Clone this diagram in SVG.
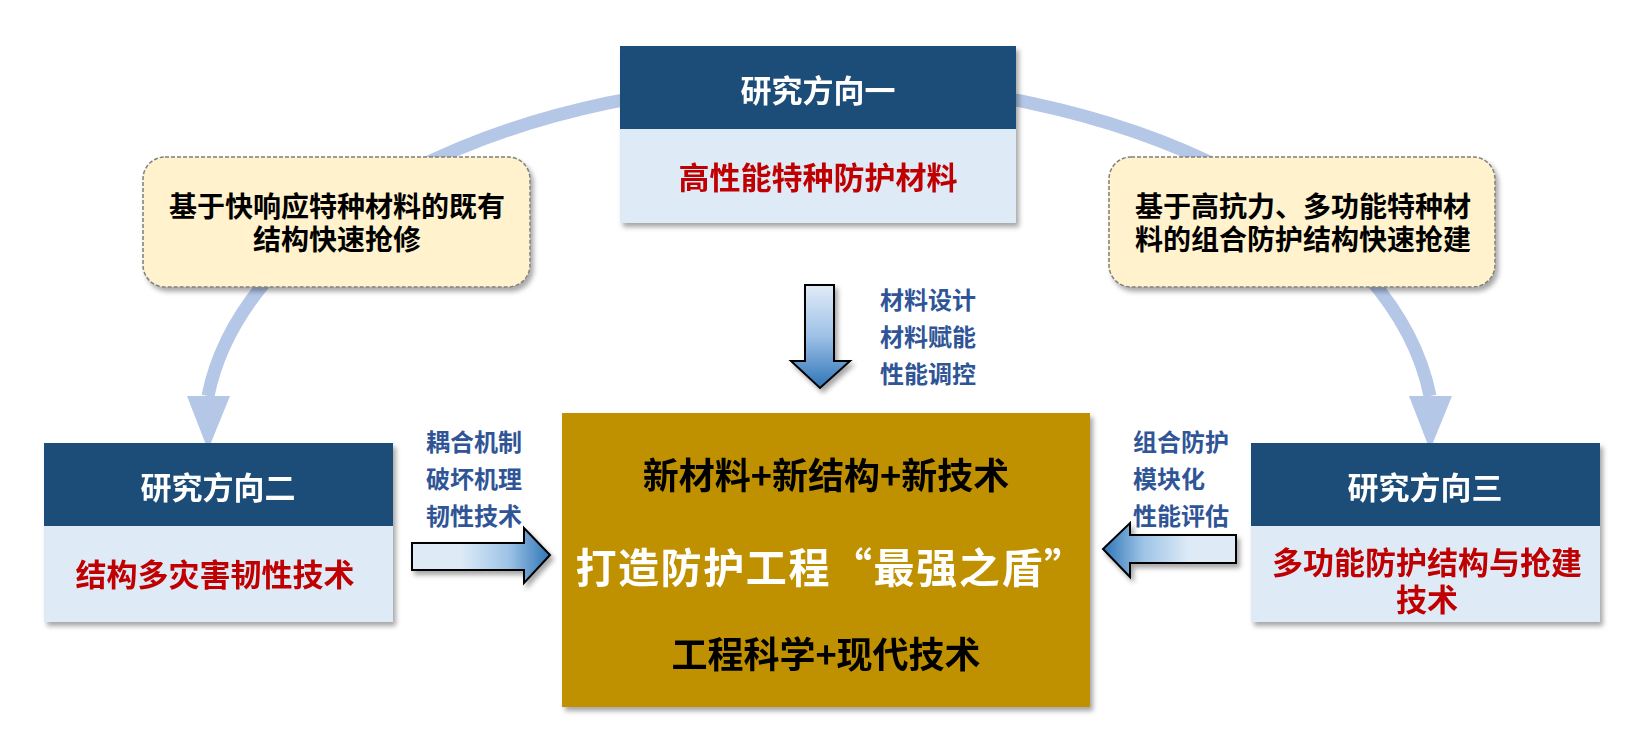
<svg xmlns="http://www.w3.org/2000/svg" width="1639" height="751" viewBox="0 0 1639 751">
<defs>
<style>
text{font-family:"Noto Sans CJK SC","Liberation Sans",sans-serif;font-weight:700;dominant-baseline:central}
.title{fill:#FFFFFF;font-size:31px;text-anchor:middle}
.sub{fill:#C00000;font-size:31px;text-anchor:middle}
.note{fill:#000000;font-size:28px;text-anchor:middle}
.lbl{fill:#2F5597;font-size:24px}
.head{fill:#1F4E79}
.body{fill:#DEEBF7}
.yel{fill:#FFF2CC;stroke:#7F7F7F;stroke-width:1.5;stroke-dasharray:4 2}
.garr{stroke:#000;stroke-width:2;stroke-linejoin:miter}
</style>
<filter id="sh" x="-10%" y="-10%" width="125%" height="130%">
<feDropShadow dx="3" dy="4" stdDeviation="2.5" flood-color="#000" flood-opacity="0.35"/>
</filter>
<linearGradient id="gDown" x1="0" y1="0" x2="0" y2="1">
<stop offset="0" stop-color="#E2ECF7"/><stop offset="0.5" stop-color="#9DC0E6"/><stop offset="1" stop-color="#2E75B6"/>
</linearGradient>
<linearGradient id="gRight" x1="0" y1="0" x2="1" y2="0">
<stop offset="0" stop-color="#DEEBF7"/><stop offset="0.35" stop-color="#DEEBF7"/><stop offset="0.7" stop-color="#9DC3E6"/><stop offset="1" stop-color="#2E75B6"/>
</linearGradient>
<linearGradient id="gLeft" x1="1" y1="0" x2="0" y2="0">
<stop offset="0" stop-color="#DEEBF7"/><stop offset="0.35" stop-color="#DEEBF7"/><stop offset="0.7" stop-color="#9DC3E6"/><stop offset="1" stop-color="#2E75B6"/>
</linearGradient>
</defs>
<rect width="1639" height="751" fill="#FFFFFF"/>

<g id="connectors">
<path d="M 208 396 A 615 355 0 0 1 1430 396" fill="none" stroke="#B4C7E7" stroke-width="13"/>
<polygon points="187,396 230,396 208,450" fill="#B4C7E7"/>
<polygon points="1409,396 1452,396 1430,450" fill="#B4C7E7"/>
<polygon class="garr" points="805,285 834,285 834,361 850,361 820,388 791,361 805,361" fill="url(#gDown)" filter="url(#sh)"/>
<polygon class="garr" points="412,543 524,543 524,528 550,555 524,583 524,570 412,570" fill="url(#gRight)" filter="url(#sh)"/>
<polygon class="garr" points="1236,535 1130,535 1130,523 1103,549 1130,577 1130,563 1236,563" fill="url(#gLeft)" filter="url(#sh)"/>
<text class="lbl" x="880" y="298">材料设计</text>
<text class="lbl" x="880" y="335">材料赋能</text>
<text class="lbl" x="880" y="372">性能调控</text>
<text class="lbl" x="426" y="440">耦合机制</text>
<text class="lbl" x="426" y="477">破坏机理</text>
<text class="lbl" x="426" y="514">韧性技术</text>
<text class="lbl" x="1133" y="440">组合防护</text>
<text class="lbl" x="1133" y="477">模块化</text>
<text class="lbl" x="1133" y="514">性能评估</text>
</g>

<g id="dir1" filter="url(#sh)">
<rect class="body" x="620" y="46" width="396" height="177"/>
<rect class="head" x="620" y="46" width="396" height="83"/>
<text class="title" x="818" y="88">研究方向一</text>
<text class="sub" x="818" y="175">高性能特种防护材料</text>
</g>

<g id="note-left">
<rect class="yel" x="143" y="157" width="387" height="130" rx="22" filter="url(#sh)"/>
<text class="note" x="337" y="205">基于快响应特种材料的既有</text>
<text class="note" x="337" y="238">结构快速抢修</text>
</g>

<g id="note-right">
<rect class="yel" x="1109" y="157" width="386" height="130" rx="22" filter="url(#sh)"/>
<text class="note" x="1303" y="205">基于高抗力、多功能特种材</text>
<text class="note" x="1303" y="238">料的组合防护结构快速抢建</text>
</g>

<g id="dir2" filter="url(#sh)">
<rect class="body" x="44" y="443" width="349" height="179"/>
<rect class="head" x="44" y="443" width="349" height="83"/>
<text class="title" x="218" y="485">研究方向二</text>
<text class="sub" x="215" y="572">结构多灾害韧性技术</text>
</g>

<g id="dir3" filter="url(#sh)">
<rect class="body" x="1251" y="443" width="349" height="179"/>
<rect class="head" x="1251" y="443" width="349" height="83"/>
<text class="title" x="1425" y="485">研究方向三</text>
<text class="sub" x="1427" y="560">多功能防护结构与抢建</text>
<text class="sub" x="1427" y="597">技术</text>
</g>

<g id="center" filter="url(#sh)">
<rect x="562" y="413" width="528" height="294" fill="#BF9000"/>
<text x="826" y="473" font-size="36" fill="#000" text-anchor="middle">新材料+新结构+新技术</text>
<text x="831" y="565" font-size="41" fill="#FFFFFF" text-anchor="middle" letter-spacing="1.6">打造防护工程“最强之盾”</text>
<text x="826" y="652" font-size="36" fill="#000" text-anchor="middle">工程科学+现代技术</text>
</g>
</svg>
